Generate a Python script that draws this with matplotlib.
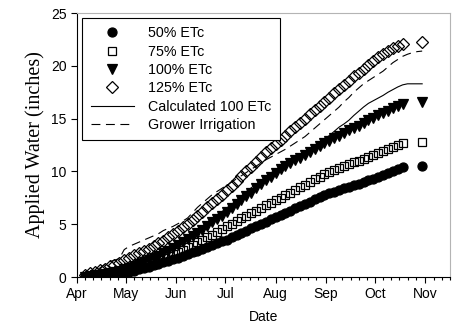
import numpy as np
import pandas as pd
import matplotlib
matplotlib.use('Agg')
import matplotlib.pyplot as plt
import matplotlib.dates as mdates

# sampling dates of the measured series (every 3 days) and of the two lines
dates = pd.date_range('2003-04-06', '2003-10-18', freq='3D')
line_dates = pd.date_range('2003-04-06', '2003-10-30', freq='3D')
final_date = pd.Timestamp('2003-10-30')

etc50 = [0.02, 0.05, 0.08, 0.12, 0.18, 0.22, 0.28, 0.33, 0.4, 0.48, 0.6, 0.72, 0.85, 0.98,
         1.1, 1.25, 1.4, 1.55, 1.7, 1.85, 2.0, 2.2, 2.35, 2.5, 2.7, 2.85, 3.05, 3.2, 3.4,
         3.55, 3.8, 4.0, 4.2, 4.4, 4.6, 4.8, 5.05, 5.25, 5.5, 5.7, 5.9, 6.1, 6.3, 6.55,
         6.75, 6.95, 7.15, 7.35, 7.6, 7.8, 7.95, 8.1, 8.25, 8.4, 8.55, 8.7, 8.85, 9.0,
         9.15, 9.3, 9.5, 9.7, 9.85, 10.0, 10.2, 10.4]
etc75 = [0.05, 0.1, 0.12, 0.18, 0.25, 0.3, 0.4, 0.5, 0.6, 0.7, 0.85, 1.0, 1.15, 1.3,
         1.45, 1.65, 1.85, 2.0, 2.2, 2.4, 2.6, 2.8, 3.05, 3.3, 3.5, 3.75, 4.0, 4.25, 4.55,
         4.8, 5.05, 5.3, 5.55, 5.8, 6.05, 6.3, 6.55, 6.8, 7.0, 7.25, 7.5, 7.75, 8.0, 8.25,
         8.5, 8.75, 9.0, 9.25, 9.5, 9.75, 9.95, 10.1, 10.3, 10.5, 10.7, 10.85, 11.0, 11.2,
         11.4, 11.55, 11.75, 11.95, 12.15, 12.35, 12.55, 12.7]
etc100 = [0.05, 0.1, 0.15, 0.2, 0.3, 0.4, 0.5, 0.6, 0.75, 0.9, 1.05, 1.2, 1.4, 1.6,
          1.8, 2.0, 2.25, 2.5, 2.75, 3.0, 3.3, 3.6, 3.9, 4.2, 4.5, 4.85, 5.2, 5.5, 5.8,
          6.15, 6.5, 6.9, 7.3, 7.65, 8.0, 8.4, 8.8, 9.15, 9.5, 9.9, 10.2, 10.5, 10.8, 11.05,
          11.3, 11.6, 11.85, 12.1, 12.4, 12.65, 12.9, 13.15, 13.4, 13.65, 13.9, 14.1, 14.35,
          14.6, 14.85, 15.05, 15.3, 15.55, 15.75, 16.0, 16.2, 16.4]
etc125 = [0.2, 0.35, 0.5, 0.65, 0.8, 1.0, 1.15, 1.35, 1.6, 1.85, 2.05, 2.25, 2.5, 2.7,
          2.95, 3.2, 3.45, 3.75, 4.05, 4.35, 4.7, 5.05, 5.4, 5.8, 6.2, 6.6, 7.0, 7.4, 7.8,
          8.2, 8.65, 9.1, 9.55, 10.0, 10.45, 10.9, 11.35, 11.8, 12.2, 12.6, 13.0, 13.4,
          13.8, 14.2, 14.6, 15.0, 15.4, 15.8, 16.2, 16.6, 17.0, 17.4, 17.8, 18.2, 18.6,
          19.0, 19.35, 19.75, 20.1, 20.5, 20.8, 21.1, 21.4, 21.65, 21.9, 22.1]
# season totals plotted separately at the end
final_totals = {'50': 10.5, '75': 12.8, '100': 16.6, '125': 22.3}

calc100 = [0.05, 0.1, 0.15, 0.25, 0.35, 0.45, 0.55, 0.7, 0.85, 1.0, 1.2, 1.4, 1.6, 1.8,
           2.0, 2.25, 2.5, 2.75, 3.0, 3.2, 3.5, 3.8, 4.15, 4.5, 4.85, 5.2, 5.55, 5.9, 6.2,
           6.55, 6.9, 7.3, 7.7, 8.1, 8.45, 8.8, 9.15, 9.5, 9.85, 10.2, 10.5, 10.8, 11.1,
           11.35, 11.6, 11.9, 12.2, 12.5, 12.8, 13.1, 13.4, 13.8, 14.2, 14.5, 14.85, 15.3,
           15.7, 16.1, 16.45, 16.7, 16.95, 17.2, 17.5, 17.75, 18.0, 18.2, 18.3, 18.3, 18.3, 18.3]
grower = [0.1, 0.3, 0.55, 0.85, 1.2, 1.45, 1.6, 1.75, 2.6, 2.9, 3.1, 3.3, 3.5, 3.7,
          3.9, 4.1, 4.4, 4.6, 4.8, 5.05, 5.3, 5.6, 6.1, 6.6, 7.0, 7.4, 7.8, 8.1, 8.4,
          8.7, 9.0, 9.3, 9.6, 9.9, 10.2, 10.5, 10.8, 11.1, 11.35, 11.6, 11.85, 12.1, 12.4,
          12.7, 13.0, 13.3, 13.7, 14.1, 14.5, 14.9, 15.3, 15.7, 16.1, 16.6, 17.0, 17.5,
          17.9, 18.3, 18.6, 18.9, 19.2, 19.5, 19.9, 20.3, 20.6, 20.9, 21.1, 21.25, 21.35, 21.4]

plt.rcParams['font.family'] = ['Liberation Sans', 'DejaVu Sans']

fig = plt.figure(figsize=(4.53, 3.35), dpi=100)
ax = fig.add_axes([0.170, 0.173, 0.823, 0.788])

ms = dict(linestyle='none', markeredgecolor='black', markeredgewidth=0.9)
ax.plot(dates, etc50, marker='o', markersize=6.5, color='black', label='50% ETc', **ms)
ax.plot(final_date, final_totals['50'], marker='o', markersize=6.5, color='black', **ms)
ax.plot(dates, etc75, marker='s', markersize=5.5, markerfacecolor='none', label='75% ETc', **ms)
ax.plot(final_date, final_totals['75'], marker='s', markersize=5.5, markerfacecolor='none', **ms)
ax.plot(dates, etc100, marker='v', markersize=7, color='black', label='100% ETc', **ms)
ax.plot(final_date, final_totals['100'], marker='v', markersize=7, color='black', **ms)
ax.plot(dates, etc125, marker='D', markersize=5.8, markerfacecolor='none', label='125% ETc', **ms)
ax.plot(final_date, final_totals['125'], marker='D', markersize=5.8, markerfacecolor='none', **ms)

ax.plot(line_dates, calc100, color='black', linewidth=0.8, label='Calculated 100 ETc')
ax.plot(line_dates, grower, color='black', linewidth=0.8, linestyle=(0, (8, 5)),
        label='Grower Irrigation')

ax.set_xlim(pd.Timestamp('2003-04-01'), pd.Timestamp('2003-11-16'))
ax.set_ylim(0, 25)
ax.set_yticks([0, 5, 10, 15, 20, 25])

ax.xaxis.set_major_locator(mdates.MonthLocator())
ax.xaxis.set_major_formatter(mdates.DateFormatter('%b'))
ax.xaxis.set_minor_locator(mdates.DayLocator(bymonthday=[6, 11, 16, 21, 26]))
ax.tick_params(axis='both', which='major', direction='out', length=4, width=0.8,
               labelsize=10, color='black')
ax.tick_params(axis='x', which='minor', direction='out', length=2.5, width=0.8)

for s in ['top', 'right']:
    ax.spines[s].set_color('#b4b4b4')
    ax.spines[s].set_linewidth(0.8)
for s in ['left', 'bottom']:
    ax.spines[s].set_linewidth(0.8)

ax.set_xlabel('Date', fontsize=10, labelpad=6)
ax.set_ylabel('Applied Water (inches)', fontsize=14.5, family='Liberation Serif', labelpad=4)

leg = ax.legend(loc='upper left', bbox_to_anchor=(0.014, 0.982), fontsize=10.3, numpoints=1,
                handlelength=3.0, handletextpad=1.0, labelspacing=0.3, borderpad=0.6,
                fancybox=False, framealpha=1, edgecolor='black', borderaxespad=0)
leg.get_frame().set_linewidth(0.8)

fig.savefig('out.png', dpi=100)
